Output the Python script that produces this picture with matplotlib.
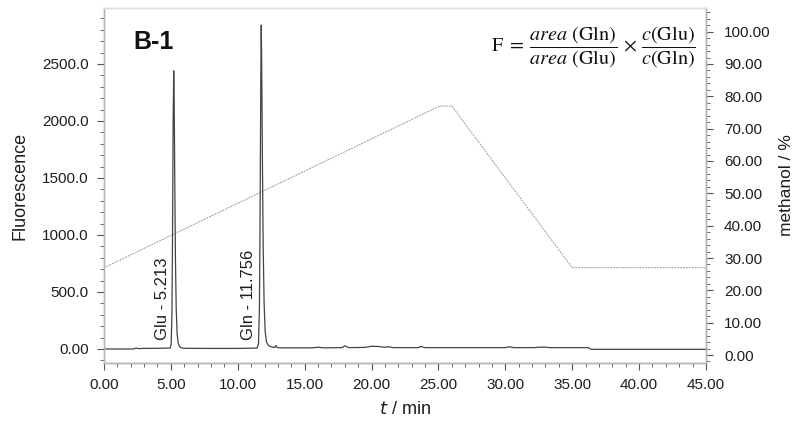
import matplotlib.pyplot as plt
from matplotlib.ticker import FixedLocator, MultipleLocator

plt.rcParams['font.family'] = ['Liberation Sans', 'DejaVu Sans']
plt.rcParams['mathtext.fontset'] = 'stix'

## -- chromatogram (time / min, fluorescence)
t_sig = [0.0, 1.0, 2.2, 2.4, 2.6, 2.9, 4.0, 4.95, 5.02, 5.08, 5.13, 5.17, 5.213,
         5.25, 5.29, 5.34, 5.40, 5.47, 5.55, 5.65, 5.8, 6.0, 8.0, 10.0, 11.45,
         11.55, 11.62, 11.67, 11.72, 11.756, 11.79, 11.84, 11.90, 11.97, 12.05,
         12.15, 12.3, 12.5, 12.75, 12.85, 12.95, 13.2, 14.0, 15.5, 16.0, 16.5,
         17.8, 18.0, 18.3, 19.5, 20.0, 20.5, 21.0, 21.3, 21.6, 22.0, 23.5, 23.7,
         24.0, 27.0, 30.0, 30.3, 30.6, 32.2, 32.5, 33.0, 33.3, 36.2, 36.4, 45.0]
sig = [0, 0, 0, 8, 3, 5, 6, 8, 40, 300, 1100, 2000, 2440,
       2150, 1500, 800, 350, 130, 50, 20, 10, 6, 5, 5, 8,
       50, 350, 1200, 2300, 2840, 2500, 1700, 900, 400, 150,
       60, 30, 20, 12, 30, 12, 10, 10, 10, 15, 10,
       12, 28, 12, 14, 24, 22, 15, 20, 12, 12, 12, 22,
       12, 12, 12, 20, 12, 12, 16, 16, 12, 12, -3, -3]

## -- methanol gradient program
t_grad = [0.0, 25.1, 26.0, 35.0, 45.0]
meoh = [27, 77, 77, 27, 27]

## -- peak annotations
peak_names = ['Glu - 5.213', 'Gln - 11.756']
peak_label_t = [4.4, 10.8]

## -- ticks
x_ticks = [0, 5, 10, 15, 20, 25, 30, 35, 40, 45]
x_labels = ['0.00', '5.00', '10.00', '15.00', '20.00', '25.00', '30.00',
            '35.00', '40.00', '45.00']
y_ticks = [0, 500, 1000, 1500, 2000, 2500]
y_labels = ['0.00', '500.0', '1000.0', '1500.0', '2000.0', '2500.0']
y2_ticks = [0, 10, 20, 30, 40, 50, 60, 70, 80, 90, 100]
y2_labels = ['0.00', '10.00', '20.00', '30.00', '40.00', '50.00', '60.00',
             '70.00', '80.00', '90.00', '100.00']

spine_col = '#b4b4b4'
tick_col = '#555555'
txt_col = '#1e1e1e'

fig = plt.figure(figsize=(7.95, 4.23), dpi=100)
ax = fig.add_axes([0.1308, 0.1418, 0.7572, 0.8392])
ax2 = ax.twinx()

ax2.plot(t_grad, meoh, color='#9a9a9a', lw=0.7, ls=(0, (2, 1)))
ax.plot(t_sig, sig, color='#444444', lw=0.9)
ax.set_zorder(ax2.get_zorder() + 1)
ax.patch.set_visible(False)

ax.set_xlim(0, 45)
ax.set_ylim(-123, 2990)
ax2.set_ylim(-2.47, 107.3)

ax.xaxis.set_major_locator(FixedLocator(x_ticks))
ax.set_xticklabels(x_labels)
ax.xaxis.set_minor_locator(MultipleLocator(1))
ax.yaxis.set_major_locator(FixedLocator(y_ticks))
ax.set_yticklabels(y_labels)
ax.yaxis.set_minor_locator(MultipleLocator(100))
ax2.yaxis.set_major_locator(FixedLocator(y2_ticks))
ax2.set_yticklabels(y2_labels)
ax2.yaxis.set_minor_locator(MultipleLocator(2))

for a in (ax, ax2):
  for s in a.spines.values():
    s.set_color(spine_col)
    s.set_linewidth(1.0)
  a.tick_params(which='major', length=5, width=0.8, color=tick_col,
                labelsize=11, labelcolor=txt_col)
  a.tick_params(which='minor', length=3, width=0.6, color=tick_col)
ax.tick_params(axis='x', pad=6)
ax.tick_params(axis='y', pad=6)
ax2.tick_params(axis='y', pad=8)
ax.spines['top'].set_color('#dddddd')
ax2.spines['top'].set_color('#dddddd')

ax.set_xlabel(r'$\mathit{t}$ / min', fontsize=13, color=txt_col, labelpad=6)
ax.set_ylabel('Fluorescence', fontsize=13, color=txt_col, labelpad=10)
ax2.set_ylabel('methanol / %', fontsize=12.5, color=txt_col, labelpad=6)
ax.xaxis.label.set_math_fontfamily('dejavusans')

for name, tx in zip(peak_names, peak_label_t):
  ax.text(tx, 80, name, rotation=90, ha='center', va='bottom',
          fontsize=12, color=txt_col)

ax.text(0.048, 0.905, 'B-1', transform=ax.transAxes, fontsize=18,
        fontweight='bold', color='#111111', va='center', ha='left')
ax.text(0.983, 0.89,
        r'$\mathrm{F}\;=\;\dfrac{\mathit{area}\ (\mathrm{Gln})}{\mathit{area}\ (\mathrm{Glu})}'
        r'\,\times\,\dfrac{\mathit{c}(\mathrm{Glu})}{\mathit{c}(\mathrm{Gln})}$',
        transform=ax.transAxes, fontsize=14.5, ha='right', va='center',
        color='#111111')

fig.savefig('out.png', dpi=100)
